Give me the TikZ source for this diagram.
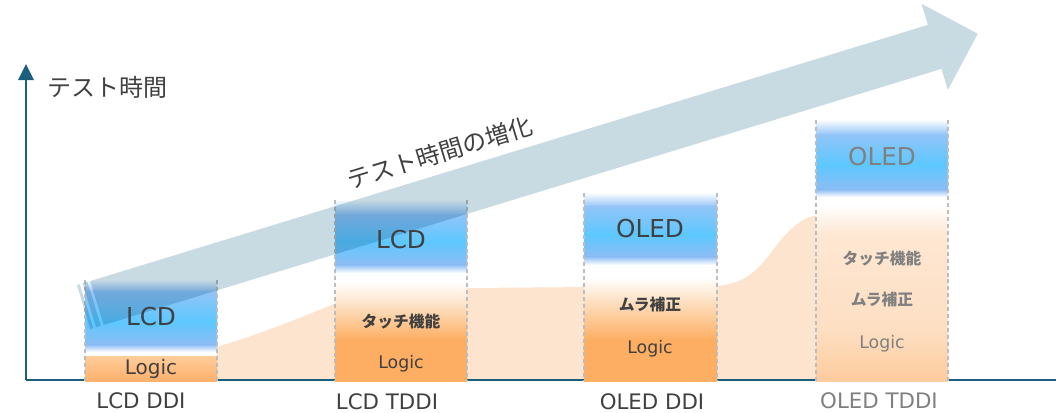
\documentclass[tikz,border=0pt]{standalone}
\usepackage{fontspec}
\setmainfont{DejaVu Sans}
\newfontfamily\jpfont{Noto Sans CJK JP}
\usetikzlibrary{arrows.meta}
\definecolor{axisc}{HTML}{1B5E7E}
\definecolor{arrc}{HTML}{C9DBE2}
\definecolor{txtc}{HTML}{404040}
\definecolor{txtg}{HTML}{808080}
\definecolor{peachc}{HTML}{FDE4CE}
\definecolor{bA}{HTML}{92C4F7}
\definecolor{bB}{HTML}{5CC8FF}
\definecolor{bC}{HTML}{8DBDF4}
\definecolor{oA}{HTML}{FDE2C6}
\definecolor{oB}{HTML}{FDAE62}
\definecolor{lA}{HTML}{FFCC99}
\definecolor{lB}{HTML}{FDB06B}
\definecolor{pA}{HTML}{FEE7D3}
\definecolor{pB}{HTML}{FDDFC3}
\definecolor{pC}{HTML}{FDCB9C}
\definecolor{dashc}{HTML}{BDBDBD}
\newcommand\barseg[6]{\shade[top color=#5,bottom color=#6] (#1,{#3-0.5}) rectangle (#2,#4);}
\tikzset{
  axisline/.style={draw=axisc},
  bardash/.style={draw=dashc, line width=0.8pt, dash pattern=on 3pt off 2.2pt},
  catlabel/.style={anchor=base, font=\fontsize{16}{19}\selectfont, text=txtc, inner sep=0pt},
  bigtxt/.style={anchor=base, font=\fontsize{18.5}{21}\selectfont, text=txtc, inner sep=0pt},
  logictxt/.style={anchor=base, font=\fontsize{13}{16}\selectfont, text=txtc, inner sep=0pt},
  feattxt/.style={anchor=base, font=\jpfont\bfseries\fontsize{11.8}{14}\selectfont, text=txtc, inner sep=0pt},
  ylabtxt/.style={anchor=base west, font=\jpfont\fontsize{18}{21}\selectfont, text=txtc, inner sep=0pt},
  arrowtxt/.style={rotate=17, font=\jpfont\fontsize{18}{21}\selectfont, text=txtc, inner sep=0pt},
}
\begin{document}
\begin{tikzpicture}[x=0.75pt,y=-0.75pt]
\useasboundingbox (0,0) rectangle (1056,412);
\coordinate (O) at (26,380);
\coordinate (Ytop) at (26,64);
\coordinate (Xend) at (1056,380);
% peach background
\fill[peachc] (216,381) -- (216,347) .. controls (255,336) and (300,318) .. (336,303)
  -- (468,288) -- (717,286) .. controls (755,283) and (765,258) .. (785,235)
  .. controls (800,220) and (808,216) .. (817,216) -- (817,381) -- cycle;
% axes
\draw[axisline, line width=1.2pt] (O) -- (Xend);
\draw[axisline, line width=1.7pt, -{Triangle[length=12pt,width=11.5pt]}] (O) -- (Ytop);
% bar 1
\fill[white] (85,280) rectangle (217,381);
\barseg{85}{217}{280}{292}{white}{bA}
\barseg{85}{217}{292}{322}{bA}{bB}
\barseg{85}{217}{322}{345}{bB}{bC}
\barseg{85}{217}{345}{352}{bC}{white}
\barseg{85}{217}{357}{381}{lA}{lB}
\draw[bardash] (85,280) -- (85,381);
\draw[bardash] (217,280) -- (217,381);
% bar 2
\fill[white] (335,200) rectangle (467,381);
\barseg{335}{467}{200}{215}{white}{bA}
\barseg{335}{467}{215}{242}{bA}{bB}
\barseg{335}{467}{242}{265}{bB}{bC}
\barseg{335}{467}{265}{273}{bC}{white}
\barseg{335}{467}{282}{305}{white}{oA}
\barseg{335}{467}{305}{340}{oA}{oB}
\barseg{335}{467}{340}{381}{oB}{oB}
\draw[bardash] (335,200) -- (335,381);
\draw[bardash] (467,200) -- (467,381);
% bar 3
\fill[white] (584,193) rectangle (717,381);
\barseg{584}{717}{193}{207}{white}{bA}
\barseg{584}{717}{207}{235}{bA}{bB}
\barseg{584}{717}{235}{257}{bB}{bC}
\barseg{584}{717}{257}{265}{bC}{white}
\barseg{584}{717}{278}{300}{white}{oA}
\barseg{584}{717}{300}{340}{oA}{oB}
\barseg{584}{717}{340}{381}{oB}{oB}
\draw[bardash] (584,193) -- (584,381);
\draw[bardash] (717,193) -- (717,381);
% bar 4
\fill[white] (816,120) rectangle (948,381);
\barseg{816}{948}{120}{135}{white}{bA}
\barseg{816}{948}{135}{165}{bA}{bB}
\barseg{816}{948}{165}{190}{bB}{bC}
\barseg{816}{948}{190}{197}{bC}{white}
\barseg{816}{948}{205}{235}{white}{pA}
\barseg{816}{948}{235}{330}{pA}{pB}
\barseg{816}{948}{330}{381}{pB}{pC}
\draw[bardash] (816,120) -- (816,381);
\draw[bardash] (948,120) -- (948,381);
% big arrow
\begin{scope}[shift={(97,303)}, rotate=17, blend mode=multiply]
  \fill[arrc] (0,-23) -- (876,-23) -- (876,-45) -- (921,0) -- (876,45) -- (876,23) -- (0,23) -- cycle;
  \fill[arrc] (-8,-23) rectangle (-3,23);
  \fill[arrc] (-14,-23) rectangle (-11,23);
\end{scope}
% texts
\node[ylabtxt] (ylab) at (47,96) {テスト時間};
\node[arrowtxt] (inc) at (440,153) {テスト時間の増化};
\node[bigtxt] (b1d) at (151,325) {LCD};
\node[logictxt, font=\fontsize{15}{18}\selectfont] (b1l) at (151,374) {Logic};
\node[bigtxt] (b2d) at (401,248) {LCD};
\node[feattxt] (b2t) at (401,327) {タッチ機能};
\node[logictxt] (b2l) at (401,368) {Logic};
\node[bigtxt] (b3d) at (650,237) {OLED};
\node[feattxt] (b3m) at (650,310) {ムラ補正};
\node[logictxt] (b3l) at (650,353) {Logic};
\node[bigtxt, text=txtg] (b4d) at (882,165) {OLED};
\node[feattxt, text=txtg] (b4t) at (882,264) {タッチ機能};
\node[feattxt, text=txtg] (b4m) at (882,305) {ムラ補正};
\node[logictxt, text=txtg] (b4l) at (882,348) {Logic};
\node[catlabel] (c1) at (141,408) {LCD DDI};
\node[catlabel] (c2) at (387,409) {LCD TDDI};
\node[catlabel] (c3) at (652,409) {OLED DDI};
\node[catlabel, text=txtg] (c4) at (879,408) {OLED TDDI};
\end{tikzpicture}
\end{document}
